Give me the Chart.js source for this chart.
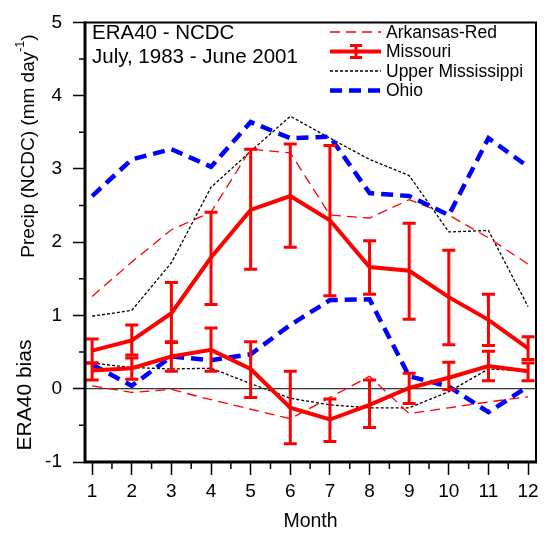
<!DOCTYPE html>
<html>
<head>
<meta charset="utf-8">
<script src="https://cdn.jsdelivr.net/npm/chart.js@4/dist/chart.umd.min.js"></script>
<style>
  html, body { margin: 0; padding: 0; background: #fff; }
</style>
</head>
<body>
<canvas id="grafik" width="548" height="533"></canvas>
<script>
const months = [1, 2, 3, 4, 5, 6, 7, 8, 9, 10, 11, 12];
const yTicks = [-1, 0, 1, 2, 3, 4, 5];

// Missouri (with error bars)
const missouriPrecip   = [0.52, 0.66, 1.03, 1.79, 2.44, 2.63, 2.30, 1.66, 1.61, 1.25, 0.94, 0.55];
const missouriPrecipLo = [0.35, 0.46, 0.63, 1.15, 1.63, 1.93, 1.27, 1.29, 0.95, 0.60, 0.59, 0.40];
const missouriPrecipHi = [0.68, 0.87, 1.45, 2.41, 3.27, 3.34, 3.32, 2.02, 2.26, 1.89, 1.29, 0.71];
const missouriBias     = [0.25, 0.28, 0.44, 0.53, 0.27, -0.26, -0.42, -0.22, 0.01, 0.15, 0.31, 0.24];
const missouriBiasLo   = [0.12, 0.13, 0.24, 0.24, -0.12, -0.75, -0.72, -0.53, -0.20, -0.01, 0.11, 0.11];
const missouriBiasHi   = [0.35, 0.42, 0.64, 0.83, 0.64, 0.24, -0.14, 0.12, 0.21, 0.36, 0.51, 0.35];

// lainnya
const arkansasPrecip = [1.26, 1.73, 2.17, 2.41, 3.27, 3.22, 2.37, 2.33, 2.58, 2.37, 2.06, 1.70];
const arkansasBias   = [0.04, -0.05, -0.01, -0.15, -0.28, -0.41, -0.12, 0.17, -0.34, -0.26, -0.18, -0.11];
const upperMissPrecip = [0.99, 1.07, 1.72, 2.75, 3.24, 3.72, 3.42, 3.13, 2.91, 2.14, 2.16, 1.12];
const upperMissBias   = [0.35, 0.29, 0.27, 0.28, 0.07, -0.13, -0.22, -0.26, -0.26, -0.04, 0.27, 0.24];
const ohioPrecip = [2.63, 3.13, 3.27, 3.03, 3.64, 3.42, 3.44, 2.67, 2.63, 2.37, 3.42, 3.03];
const ohioBias   = [0.33, 0.04, 0.44, 0.39, 0.47, 0.87, 1.21, 1.22, 0.17, 0.03, -0.32, 0.03];

const FONT = '"Liberation Sans", Arial, sans-serif';
const pts = arr => arr.map((v, i) => ({ x: months[i], y: v }));

const styles = {
    ark:  { borderColor: '#ff0000', borderWidth: 1.3, borderDash: [10, 6] },
    mis:  { borderColor: '#ff0000', borderWidth: 4 },
    um:   { borderColor: '#000000', borderWidth: 1.3, borderDash: [3, 2] },
    ohio: { borderColor: '#0000ff', borderWidth: 4.5, borderDash: [12, 7] }
};

function ds(arr, st, order) {
    return Object.assign({ data: pts(arr), pointRadius: 0, tension: 0, fill: false, order: order }, st);
}

// error bar + teks + legend + tick minor
const extras = {
    id: 'extras',
    beforeDatasetsDraw(chart) {
        const { ctx, chartArea: a, scales: { y } } = chart;
        ctx.save();
        ctx.strokeStyle = '#000';
        ctx.lineWidth = 1;
        ctx.beginPath();
        ctx.moveTo(a.left, y.getPixelForValue(0));
        ctx.lineTo(a.right, y.getPixelForValue(0));
        ctx.stroke();
        ctx.restore();
    },
    afterDatasetsDraw(chart) {
        const { ctx, chartArea: a, scales: { x, y } } = chart;
        ctx.save();
        // error bars
        ctx.strokeStyle = '#ff0000';
        [[missouriPrecipLo, missouriPrecipHi], [missouriBiasLo, missouriBiasHi]].forEach(([lo, hi]) => {
            months.forEach((m, i) => {
                const px = x.getPixelForValue(m);
                const y1 = y.getPixelForValue(lo[i]);
                const y2 = y.getPixelForValue(hi[i]);
                ctx.lineWidth = 3;
                ctx.beginPath();
                ctx.moveTo(px, y1); ctx.lineTo(px, y2);
                ctx.moveTo(px - 6.5, y1); ctx.lineTo(px + 6.5, y1);
                ctx.moveTo(px - 6.5, y2); ctx.lineTo(px + 6.5, y2);
                ctx.stroke();
            });
        });

        // frame
        ctx.strokeStyle = '#000';
        ctx.lineWidth = 2;
        ctx.beginPath();
        ctx.moveTo(a.left, a.top); ctx.lineTo(a.right, a.top); ctx.lineTo(a.right, a.bottom);
        ctx.stroke();
        ctx.lineWidth = 3;
        ctx.beginPath();
        ctx.moveTo(a.left, a.top - 1); ctx.lineTo(a.left, a.bottom); ctx.lineTo(a.right + 1, a.bottom);
        ctx.stroke();

        // minor ticks
        ctx.lineWidth = 1.5;
        ctx.beginPath();
        for (let m = 1.5; m < 12.2; m += 1) {
            const px = x.getPixelForValue(m);
            ctx.moveTo(px, a.bottom); ctx.lineTo(px, a.bottom + 7);
        }
        for (let v = -0.5; v < 5; v += 1) {
            const py = y.getPixelForValue(v);
            ctx.moveTo(a.left, py); ctx.lineTo(a.left - 6, py);
        }
        ctx.stroke();

        // teks judul di dalam plot
        ctx.fillStyle = '#000';
        ctx.textBaseline = 'alphabetic';
        ctx.textAlign = 'left';
        ctx.font = '20.5px ' + FONT;
        ctx.fillText('ERA40 - NCDC', 92, 39);
        ctx.fillText('July, 1983 - June 2001', 92, 63);

        // legend
        const items = [
            { label: 'Arkansas-Red', st: styles.ark },
            { label: 'Missouri', st: styles.mis, err: true },
            { label: 'Upper Mississippi', st: styles.um },
            { label: 'Ohio', st: styles.ohio }
        ];
        ctx.font = '17.5px ' + FONT;
        ctx.textBaseline = 'middle';
        items.forEach((it, i) => {
            const cy = 32 + i * 19.5;
            ctx.strokeStyle = it.st.borderColor;
            ctx.lineWidth = it.st.borderWidth;
            ctx.setLineDash(it.st.borderDash || []);
            ctx.beginPath();
            ctx.moveTo(330, cy); ctx.lineTo(381, cy);
            ctx.stroke();
            ctx.setLineDash([]);
            if (it.err) {
                ctx.lineWidth = 3;
                ctx.beginPath();
                ctx.moveTo(356, cy - 6); ctx.lineTo(356, cy + 6);
                ctx.moveTo(350, cy - 6); ctx.lineTo(362, cy - 6);
                ctx.moveTo(350, cy + 6); ctx.lineTo(362, cy + 6);
                ctx.stroke();
            }
            ctx.fillStyle = '#000';
            ctx.fillText(it.label, 386, cy + 1);
        });

        // judul sumbu
        ctx.font = '19.5px ' + FONT;
        ctx.textAlign = 'center';
        ctx.textBaseline = 'middle';
        ctx.fillText('Month', (a.left + a.right) / 2, 522);

        ctx.save();
        ctx.translate(29, 146);
        ctx.rotate(-Math.PI / 2);
        ctx.font = '19px ' + FONT;
        const t1 = 'Precip (NCDC) (mm day';
        const w1 = ctx.measureText(t1).width;
        ctx.font = '12.5px ' + FONT;
        const w2 = ctx.measureText('-1').width;
        ctx.font = '19px ' + FONT;
        const w3 = ctx.measureText(')').width;
        let sx = -(w1 + w2 + w3) / 2;
        ctx.textAlign = 'left';
        ctx.fillText(t1, sx, 0);
        ctx.font = '12.5px ' + FONT;
        ctx.fillText('-1', sx + w1, -8);
        ctx.font = '19px ' + FONT;
        ctx.fillText(')', sx + w1 + w2, 0);
        ctx.restore();

        ctx.save();
        ctx.translate(25, 395);
        ctx.rotate(-Math.PI / 2);
        ctx.textAlign = 'center';
        ctx.font = '21px ' + FONT;
        ctx.fillText('ERA40 bias', 0, 0);
        ctx.restore();

        ctx.restore();
    }
};

new Chart(document.getElementById('grafik'), {
    type: 'line',
    data: {
        datasets: [
            ds(missouriPrecip, styles.mis, 0),
            ds(missouriBias, styles.mis, 0),
            ds(ohioPrecip, styles.ohio, 1),
            ds(ohioBias, styles.ohio, 1),
            ds(arkansasPrecip, styles.ark, 2),
            ds(arkansasBias, styles.ark, 2),
            ds(upperMissPrecip, styles.um, 3),
            ds(upperMissBias, styles.um, 3)
        ]
    },
    options: {
        responsive: false,
        animation: false,
        layout: { padding: { left: 0, right: 12, top: 14, bottom: 0 } },
        plugins: { legend: { display: false }, tooltip: { enabled: false } },
        scales: {
            x: {
                type: 'linear',
                min: 0.82,
                max: 12.2,
                afterBuildTicks: s => { s.ticks = months.map(v => ({ value: v })); },
                afterFit: s => { s.height = 71; },
                grid: { drawOnChartArea: false, drawTicks: true, tickLength: 13, tickWidth: 1.5, tickColor: '#000' },
                border: { display: false },
                ticks: { color: '#000', font: { family: FONT, size: 19 }, padding: 5, maxRotation: 0, autoSkip: false }
            },
            y: {
                min: -1,
                max: 5,
                afterBuildTicks: s => { s.ticks = yTicks.map(v => ({ value: v })); },
                afterFit: s => { s.width = 85; },
                grid: { drawOnChartArea: false, drawTicks: true, tickLength: 12, tickWidth: 1.5, tickColor: '#000' },
                border: { display: false },
                ticks: { color: '#000', font: { family: FONT, size: 19 }, padding: 11 }
            }
        }
    },
    plugins: [extras]
});
</script>
</body>
</html>
